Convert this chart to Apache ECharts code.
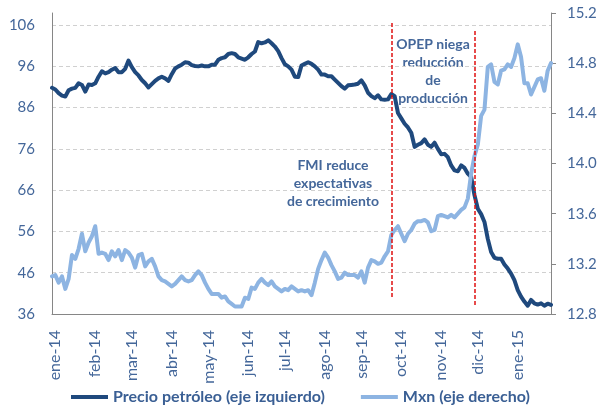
<!DOCTYPE html>
<html>
<head>
<meta charset="utf-8">
<script src="https://cdn.jsdelivr.net/npm/echarts@6/dist/echarts.min.js"></script>
<style>
  html, body { margin: 0; padding: 0; background: #fff; }
  #chart { width: 600px; height: 409px; }
</style>
</head>
<body>
<div id="chart"></div>
<script>
// etiquetas del eje x y observación en la que cae cada una
const meses = ['ene-14', 'feb-14', 'mar-14', 'abr-14', 'may-14', 'jun-14', 'jul-14',
  'ago-14', 'sep-14', 'oct-14', 'nov-14', 'dic-14', 'ene-15'];
const posMeses = [1, 13, 24, 36, 47, 59, 70, 82, 93, 105, 117, 128, 140];

// precio del petróleo, eje izquierdo
const petroleo = [
  90.8, 90.4, 89.5, 88.9, 88.7, 90.2, 90.6, 90.8, 91.9, 91.5,
  89.9, 91.6, 91.5, 91.9, 93.5, 94.8, 94.3, 94.6, 95.2, 95.6,
  94.6, 94.6, 95.4, 97.4, 95.8, 94.6, 93.8, 92.7, 91.9, 90.9,
  91.7, 92.5, 93.1, 93.5, 93.1, 92.5, 94.1, 95.5, 96.0, 96.4,
  97.0, 96.9, 96.3, 96.1, 96.0, 96.2, 96.0, 96.0, 96.4, 96.4,
  97.6, 98.0, 98.2, 99.0, 99.2, 99.0, 98.2, 97.9, 97.6, 98.2,
  99.0, 99.6, 101.9, 101.6, 101.8, 102.3, 101.6, 100.8, 99.7, 98.0,
  96.5, 96.0, 95.2, 93.5, 93.4, 96.2, 96.6, 97.0, 96.6, 96.0,
  95.2, 94.0, 94.0, 93.6, 93.6, 92.8, 92.0, 91.2, 90.6, 91.4,
  91.5, 91.6, 91.8, 92.6, 91.4, 89.6, 88.8, 88.3, 89.0, 88.0,
  87.9, 88.0, 89.3, 88.8, 84.7, 83.4, 82.1, 81.2, 79.9, 76.5,
  77.0, 77.4, 78.3, 77.0, 76.5, 77.5, 76.0, 74.7, 74.8, 74.0,
  72.0, 70.8, 70.6, 72.0, 71.4, 70.0, 69.2, 64.8, 61.5, 60.2,
  58.3, 54.2, 51.0, 49.6, 49.4, 49.4, 48.0, 47.0, 45.8, 44.2,
  41.8, 40.2, 39.0, 38.0, 39.4, 38.6, 38.3, 38.6, 38.0, 38.5,
  38.2
];

// tipo de cambio, eje derecho
const mxn = [
  13.10, 13.11, 13.05, 13.10, 13.00, 13.08, 13.27, 13.24, 13.32, 13.44,
  13.30, 13.37, 13.42, 13.50, 13.28, 13.29, 13.28, 13.23, 13.30, 13.26,
  13.31, 13.23, 13.31, 13.29, 13.25, 13.17, 13.27, 13.28, 13.18, 13.22,
  13.24, 13.18, 13.10, 13.07, 13.06, 13.04, 13.02, 13.04, 13.07, 13.10,
  13.07, 13.06, 13.07, 13.11, 13.14, 13.11, 13.05, 13.00, 12.96, 12.96,
  12.96, 12.93, 12.94, 12.90, 12.88, 12.86, 12.86, 12.86, 12.93, 12.92,
  13.01, 13.00, 13.05, 13.08, 13.05, 13.03, 13.06, 13.02, 13.00, 12.98,
  13.00, 12.99, 13.02, 13.00, 12.98, 12.99, 12.98, 12.99, 12.95, 13.05,
  13.16, 13.23, 13.29, 13.25, 13.19, 13.14, 13.08, 13.09, 13.13, 13.11,
  13.11, 13.11, 13.09, 13.14, 13.05, 13.17, 13.23, 13.22, 13.20, 13.21,
  13.26, 13.30, 13.43, 13.47, 13.50, 13.44, 13.38, 13.44, 13.47, 13.52,
  13.54, 13.54, 13.55, 13.53, 13.46, 13.47, 13.58, 13.59, 13.58, 13.57,
  13.59, 13.57, 13.60, 13.63, 13.65, 13.72, 13.92, 14.06, 14.15, 14.38,
  14.43, 14.77, 14.79, 14.65, 14.63, 14.74, 14.75, 14.79, 14.77, 14.84,
  14.95, 14.85, 14.64, 14.64, 14.55, 14.61, 14.67, 14.68, 14.58, 14.74,
  14.80
];

// eventos marcados con línea roja: posición en la serie y tramo vertical (eje izq.)
const eventos = [
  { idx: 102, desde: 40.1, hasta: 106.7 },
  { idx: 127, desde: 38.2, hasta: 104.8 }
];

const fechas = petroleo.map((_, i) => {
  const k = posMeses.indexOf(i);
  return k >= 0 ? meses[k] : '';
});

const azulTexto = '#44679A';
const fuente = 'Lato, "Noto Sans", sans-serif';

const chart = echarts.init(document.getElementById('chart'), null, { renderer: 'canvas' });

chart.setOption({
  animation: false,
  textStyle: { fontFamily: fuente },
  grid: { left: 52, right: 49, top: 13, bottom: 95 },
  legend: {
    left: 71,
    top: 389,
    padding: 0,
    icon: 'rect',
    itemWidth: 37,
    itemHeight: 4,
    itemGap: 36,
    textStyle: { fontSize: 16, fontWeight: 'bold', color: '#3A5F94', fontFamily: fuente },
    data: ['Precio petróleo (eje izquierdo)', 'Mxn (eje derecho)']
  },
  xAxis: {
    type: 'category',
    data: fechas,
    boundaryGap: false,
    axisLine: { lineStyle: { color: '#868686', width: 1 } },
    axisTick: { show: false },
    axisLabel: {
      interval: 0,
      rotate: 90,
      margin: 16,
      fontSize: 16,
      color: azulTexto,
      fontFamily: fuente
    }
  },
  yAxis: [
    {
      type: 'value',
      min: 36,
      max: 108.93,
      interval: 10,
      axisLine: { show: true, lineStyle: { color: '#868686' } },
      axisTick: { show: false },
      axisLabel: {
        margin: 17,
        fontSize: 15,
        color: azulTexto,
        fontFamily: fuente,
        showMaxLabel: false,
        formatter: v => (Math.abs(v - Math.round(v)) < 1e-6 && (Math.round(v) - 36) % 10 === 0) ? String(Math.round(v)) : ''
      },
      splitLine: {
        show: true,
        showMaxLine: false,
        lineStyle: { color: '#D0D0D0', type: [4, 3], width: 1 }
      }
    },
    {
      type: 'value',
      min: 12.8,
      max: 15.2,
      interval: 0.4,
      axisLine: { show: true, lineStyle: { color: '#868686' } },
      axisTick: { show: true, length: 5, lineStyle: { color: '#868686' } },
      axisLabel: {
        margin: 16,
        fontSize: 15,
        color: azulTexto,
        fontFamily: fuente,
        formatter: v => v.toFixed(1)
      },
      splitLine: { show: false }
    }
  ],
  series: [
    {
      name: 'Precio petróleo (eje izquierdo)',
      type: 'line',
      yAxisIndex: 0,
      data: petroleo,
      symbol: 'none',
      itemStyle: { color: '#1F497D' },
      lineStyle: { color: '#1F497D', width: 4, join: 'round', cap: 'round' },
      markLine: {
        silent: true,
        symbol: 'none',
        label: { show: false },
        lineStyle: { color: '#E01010', type: [4, 2], width: 1.5 },
        data: eventos.map(e => [
          { coord: [e.idx, e.desde] },
          { coord: [e.idx, e.hasta] }
        ])
      }
    },
    {
      name: 'Mxn (eje derecho)',
      type: 'line',
      yAxisIndex: 1,
      data: mxn,
      symbol: 'none',
      itemStyle: { color: '#8DB4E2' },
      lineStyle: { color: '#8DB4E2', width: 4, join: 'round', cap: 'round' }
    }
  ],
  graphic: [
    {
      type: 'text',
      x: 333,
      y: 183,
      style: {
        text: 'FMI reduce\nexpectativas\nde crecimiento',
        align: 'center',
        verticalAlign: 'middle',
        lineHeight: 18,
        fill: azulTexto,
        font: 'bold 14px ' + fuente
      }
    },
    {
      type: 'text',
      x: 433,
      y: 71,
      style: {
        text: 'OPEP niega\nreducción\nde\nproducción',
        align: 'center',
        verticalAlign: 'middle',
        lineHeight: 18,
        fill: azulTexto,
        font: 'bold 14px ' + fuente
      }
    }
  ]
});
</script>
</body>
</html>
